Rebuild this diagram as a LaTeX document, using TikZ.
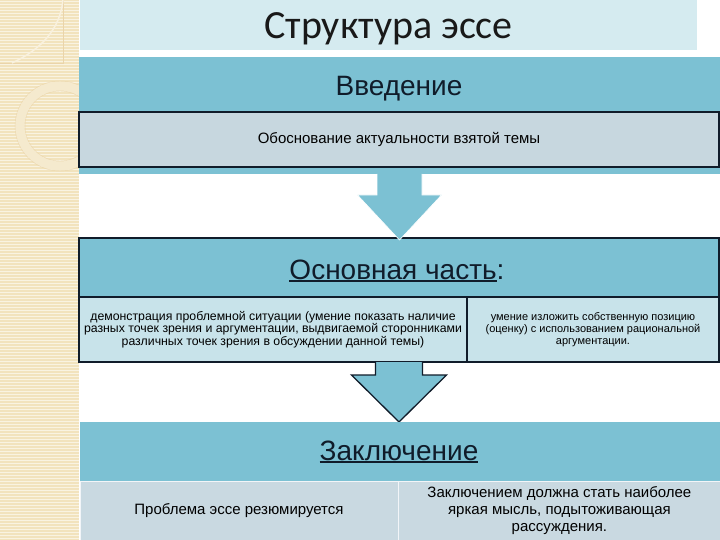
\documentclass[tikz,border=0pt]{standalone}
\usepackage{fontspec}
\setmainfont{Liberation Sans}
\newfontfamily\titlefont{Carlito}
\definecolor{banda}{HTML}{7CC1D3}
\definecolor{riquadro}{HTML}{C7D7DF}
\definecolor{cella}{HTML}{C8E3EA}
\definecolor{testata}{HTML}{D5EBF0}
\definecolor{fondo}{HTML}{C9D9E1}
\definecolor{beige}{HTML}{F2E3BD}
\definecolor{inchiostro}{HTML}{101C2A}
\newcommand{\sottolinea}[1]{\setbox0\hbox{#1}\rlap{\rule[-3pt]{\wd0}{1.8pt}}\box0}

\begin{document}
\begin{tikzpicture}[x=1pt,y=-1pt,
    blocco/.style={fill=banda, inner sep=0pt, outer sep=0pt},
    titoletto/.style={font=\fontsize{28}{32}\selectfont, text=inchiostro},
    casella/.style={draw=inchiostro, line width=1.5pt, inner sep=0pt, outer sep=0pt, align=center, text=black},
    piccolo/.style={font=\fontsize{11}{12}\selectfont},
    medio/.style={font=\fontsize{15}{17}\selectfont},
    freccia/.style={fill=banda}]
    \useasboundingbox (0,0) rectangle (720,540);

    % striscia a sinistra
    \fill[beige] (0,0) rectangle (79,540);
    \foreach \y in {1,4,...,540}
        \draw[white!55!beige, line width=0.7pt] (0,\y) -- (79,\y);
    \draw[beige!85!brown, line width=0.5pt] (0,63) -- (63,63) -- (63,0);
    \draw[white!50!beige, line width=1.5pt] (12,63) .. controls (40,50) and (60,30) .. (63,0);
    \draw[white!25!beige, line width=9pt] (60,126) circle (40);
    \draw[beige!88!brown, line width=0.4pt] (60,126) circle (45);
    \draw[beige!88!brown, line width=0.4pt] (60,126) circle (35);

    % titolo
    \node[fill=testata, minimum width=617pt, minimum height=50pt, inner sep=0pt, text height=28pt, text depth=0pt,
          font=\titlefont\fontsize{40}{44}\selectfont, text=black!90] (titolo) at (388.5,25) {Структура эссе};

    % introduzione
    \node[blocco, minimum width=641pt, minimum height=117pt] (intro) at (399.5,115.5) {};
    \node[titoletto] (introtit) at (399,89) {Введение};
    \node[casella, fill=riquadro, minimum width=640pt, minimum height=55pt,
          font=\fontsize{15}{17}\selectfont] (introbox) at (399,139.5) {Обоснование актуальности взятой темы};

    % parte principale
    \node[blocco, draw=inchiostro, line width=1.5pt, minimum width=640pt, minimum height=124pt] (main) at (399,300) {};
    \node[titoletto] (maintit) at (397,271) {\sottolinea{Основная часть}:};
    \node[casella, fill=cella, minimum width=388pt, minimum height=65pt,
          font=\fontsize{12.3}{11.6}\selectfont] (mainsx) at (273,329.5)
        {демонстрация проблемной ситуации (умение показать наличие\\
         разных точек зрения и аргументации, выдвигаемой сторонниками\\
         различных точек зрения в обсуждении данной темы)};
    \node[casella, fill=cella, minimum width=252pt, minimum height=65pt, piccolo, anchor=west] (maindx) at (mainsx.east)
        {умение изложить собственную позицию\\
         (оценку) с использованием рациональной\\
         аргументации.};

    % freccia 1
    \filldraw[freccia, draw=white, line width=0.6pt] (intro.south) ++(-22.5,0) -- ++(0,21) -- ++(-19.5,0)
        -- ++(42,45) -- ++(42,-45) -- ++(-19.5,0) -- ++(0,-21);

    % freccia 2
    \filldraw[freccia, draw=inchiostro, line width=1.3pt] (main.south) ++(-23.5,0) -- ++(0,13) -- ++(-24,0)
        -- ++(47.5,47) -- ++(47.5,-47) -- ++(-24,0) -- ++(0,-13);

    % conclusione
    \node[blocco, minimum width=640pt, minimum height=59pt] (concl) at (400,451.5) {};
    \node[titoletto] (concltit) at (399,452) {\sottolinea{Заключение}};
    \node[fill=fondo, draw=white!75!fondo, inner sep=0pt, minimum width=318pt, minimum height=60pt,
          medio] (conclsx) at (239,511) {Проблема эссе резюмируется};
    \node[fill=fondo, draw=white!75!fondo, inner sep=0pt, minimum width=322pt, minimum height=60pt,
          medio, align=center, anchor=west] (concldx) at (conclsx.east)
        {Заключением должна стать наиболее\\
         яркая мысль, подытоживающая\\
         рассуждения.};
\end{tikzpicture}
\end{document}
